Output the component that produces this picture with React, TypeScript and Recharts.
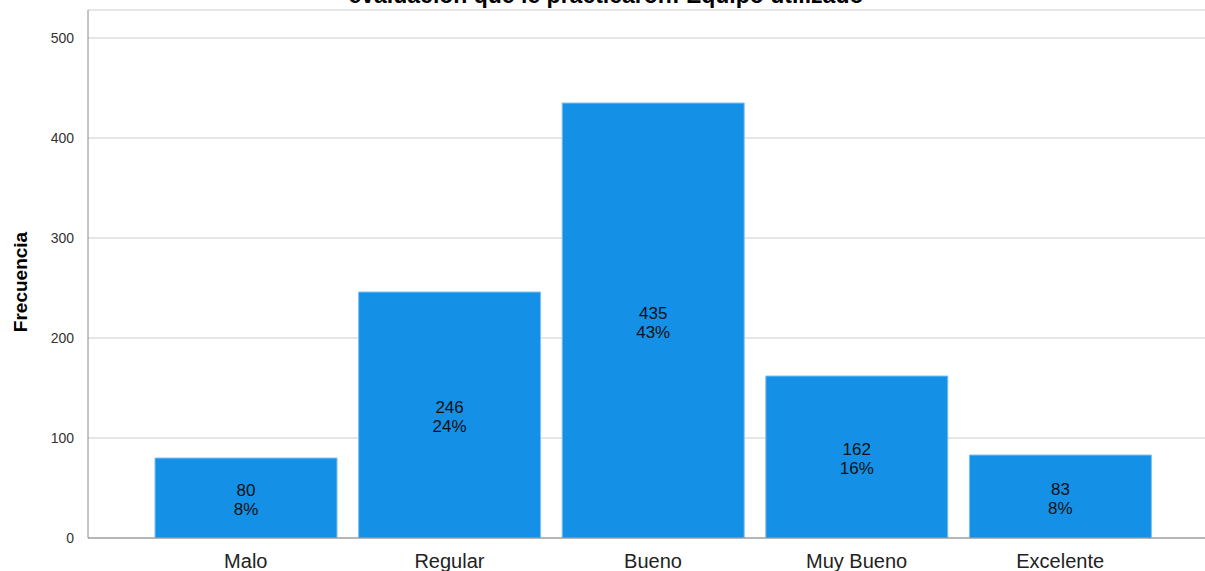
import { Bar, BarChart, CartesianGrid, LabelList, XAxis, YAxis } from "recharts"

const categories = ["Malo", "Regular", "Bueno", "Muy Bueno", "Excelente"]
const counts = [80, 246, 435, 162, 83]
const percents = ["8%", "24%", "43%", "16%", "8%"]
const yTicks = [0, 100, 200, 300, 400, 500]

const data = categories.map((name, i) => ({ name, count: counts[i], pct: percents[i] }))

const font = "'Liberation Sans', Arial, sans-serif"

const BarLabel = (props: any) => {
  const { x, y, width, height, index } = props
  const cx = x + width / 2
  const cy = y + height / 2
  return (
    <text x={cx} textAnchor="middle" fontSize={17} fill="#111" fontFamily={font}>
      <tspan x={cx} y={cy - 2}>{counts[index]}</tspan>
      <tspan x={cx} y={cy + 17}>{percents[index]}</tspan>
    </text>
  )
}

export default function App() {
  return (
    <div style={{ position: "fixed", left: 0, top: 0, background: "#fff" }}>
      <BarChart
        width={1205}
        height={571}
        data={data}
        margin={{ top: 10, right: 0, bottom: 0, left: 0 }}
        barSize={182}
      >
        <text x={606} y={3} textAnchor="middle" fontSize={23} fontWeight="bold" fill="#000" fontFamily={font}>
          evaluación que le practicaron: Equipo utilizado
        </text>
        <CartesianGrid vertical={false} stroke="#cccccc" />
        <XAxis
          dataKey="name"
          height={33}
          padding={{ left: 56, right: 43 }}
          tickLine={false}
          axisLine={{ stroke: "#888888" }}
          tick={{ fontSize: 20, fill: "#222", fontFamily: font }}
          tickMargin={10}
        />
        <YAxis
          width={88}
          domain={[0, 528]}
          ticks={yTicks}
          allowDataOverflow
          tickLine={false}
          axisLine={{ stroke: "#888888" }}
          tick={{ fontSize: 14, fill: "#333", fontFamily: font }}
          tickMargin={8}
          label={{
            value: "Frecuencia",
            angle: -90,
            position: "insideLeft",
            offset: 20,
            dy: 8,
            style: { fontSize: 19, fontWeight: "bold", fill: "#000", fontFamily: font, textAnchor: "middle" },
          }}
        />
        <Bar dataKey="count" fill="#1490e6" stroke="#7fc2f2" strokeWidth={1} isAnimationActive={false}>
          <LabelList dataKey="count" content={BarLabel} />
        </Bar>
      </BarChart>
    </div>
  )
}
